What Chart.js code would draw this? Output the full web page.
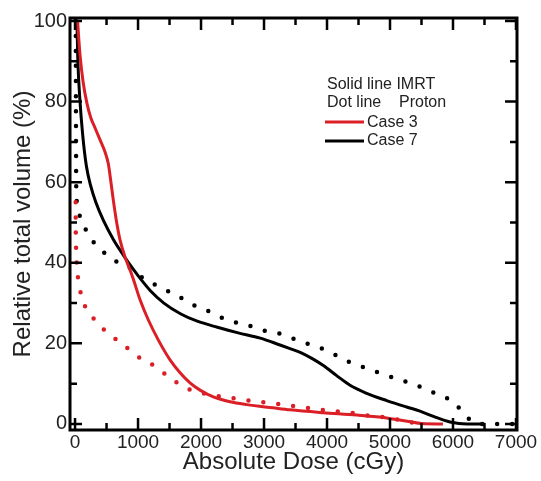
<!DOCTYPE html>
<html>
<head>
<meta charset="utf-8">
<script src="https://cdn.jsdelivr.net/npm/chart.js@4"></script>
<style>
  html, body { margin: 0; padding: 0; background: #fff; }
  #wrap { width: 541px; height: 481px; position: relative; }
</style>
</head>
<body>
<div id="wrap"><canvas id="dvhChart"></canvas></div>
<script>
// tick labels
const xTicks = [0, 1000, 2000, 3000, 4000, 5000, 6000, 7000]
const yTicks = [0, 20, 40, 60, 80, 100]

// Case 3 - IMRT (solid red)
const case3ImrtDose = [40, 79, 127, 190, 250, 317, 397, 476, 529, 570, 608, 661, 714, 794, 873, 926, 1032, 1164, 1323, 1508, 1667, 1825, 1984, 2196, 2460, 2725, 3143, 3413, 3937, 4471, 4947, 5300, 5500, 5840]
const case3ImrtVol = [100, 91.6, 85, 79.5, 76, 73.5, 70.5, 67.5, 64.5, 60, 55.5, 50, 45.7, 41.4, 38.2, 35.9, 30.8, 25.8, 20.8, 15.9, 12.7, 10.2, 8.4, 6.7, 5.5, 4.8, 4, 3.5, 2.8, 2.2, 1.5, 0.6, 0.1, 0]

// Case 3 - Proton (dotted red)
const case3ProtonDose = [10, 11, 15, 25, 45, 79, 127, 238, 349, 508, 667, 825, 979, 1190, 1376, 1535, 1720, 1958, 2270, 2540, 2825, 3095, 3333, 3598, 3915, 4180, 4418, 4656, 4947, 5212, 5450]
const case3ProtonVol = [55, 50, 45, 40.2, 36.5, 33.3, 30.3, 27.5, 25, 22.8, 20.8, 18.9, 16.9, 15.1, 13, 11.2, 9.2, 7.9, 6.9, 6.3, 5.7, 5.2, 4.7, 4.2, 3.5, 3.1, 2.7, 2.1, 1.6, 0.8, 0]

// Case 7 - IMRT (solid black)
const case7ImrtDose = [30, 45, 75, 120, 180, 250, 330, 450, 608, 767, 840, 1000, 1200, 1410, 1680, 1940, 2260, 2590, 2940, 3254, 3413, 3600, 3780, 3942, 4153, 4365, 4630, 4947, 5265, 5476, 5700, 5952, 6222, 6500]
const case7ImrtVol = [100, 90, 81, 72, 64, 59, 55, 50.5, 45.8, 41.9, 40.2, 36.8, 33, 30, 27.3, 25.5, 24, 22.6, 21.3, 19.6, 18.7, 17.6, 16.1, 14.5, 12, 9.6, 7.6, 5.8, 4.2, 3.2, 1.8, 0.5, 0, 0]

// Case 7 - Proton (dotted black)
const case7ProtonDose = [12, 13, 14, 16, 18, 30, 79, 159, 265, 450, 608, 846, 1005, 1217, 1429, 1614, 1799, 1984, 2196, 2407, 2725, 2968, 3206, 3439, 3651, 3889, 4100, 4339, 4524, 4735, 4974, 5212, 5450, 5667, 5873, 6063, 6222, 6381, 7000]
const case7ProtonVol = [100, 90, 80, 70, 60, 55, 51.4, 48.6, 45.7, 42.7, 40.7, 39, 37, 35, 33.3, 32, 30.1, 28.8, 27.5, 25.8, 24.6, 23.3, 22.6, 21.3, 20.1, 18.9, 17.4, 15.5, 14.4, 13.2, 11.9, 10.7, 9.4, 7.9, 6.7, 4.5, 1.7, 0, 0]

const RED = '#db1f26'
const BLACK = '#000000'
const FONT = "'Liberation Sans', Arial, sans-serif"

function toPoints(xs, ys) {
  return xs.map((x, i) => ({ x: x, y: ys[i] }))
}

function solid(label, color, xs, ys) {
  return {
    label: label,
    data: toPoints(xs, ys),
    borderColor: color,
    borderWidth: 3,
    pointRadius: 0,
    cubicInterpolationMode: 'monotone',
    fill: false
  }
}

function dotted(label, color, xs, ys) {
  return {
    label: label,
    data: toPoints(xs, ys),
    borderColor: color,
    borderWidth: 4.5,
    borderDash: [0, 15],
    borderCapStyle: 'round',
    pointRadius: 0,
    cubicInterpolationMode: 'monotone',
    fill: false
  }
}

// frame, inward ticks and the text legend
const framePlugin = {
  id: 'frame',
  afterDraw(chart) {
    const { ctx, chartArea: a, scales } = chart
    const xs = scales.x
    const ys = scales.y
    ctx.save()
    ctx.strokeStyle = '#000'
    ctx.lineWidth = 3
    ctx.strokeRect(a.left, a.top, a.right - a.left, a.bottom - a.top)

    ctx.lineWidth = 2.5
    ctx.beginPath()
    for (let v = 0; v <= 7000; v += 500) {
      const px = xs.getPixelForValue(v)
      const len = v % 1000 === 0 ? 12 : 7
      ctx.moveTo(px, a.bottom)
      ctx.lineTo(px, a.bottom - len)
      ctx.moveTo(px, a.top)
      ctx.lineTo(px, a.top + len)
    }
    for (let v = 0; v <= 100; v += 10) {
      const py = ys.getPixelForValue(v)
      const len = v % 20 === 0 ? 12 : 7
      ctx.moveTo(a.left, py)
      ctx.lineTo(a.left + len, py)
      ctx.moveTo(a.right, py)
      ctx.lineTo(a.right - len, py)
    }
    ctx.stroke()

    // legend
    ctx.font = '16px ' + FONT
    ctx.fillStyle = '#222'
    ctx.textBaseline = 'alphabetic'
    ctx.textAlign = 'left'
    ctx.fillText('Solid line IMRT', 327, 89)
    ctx.fillText('Dot line', 327, 107)
    ctx.fillText('Proton', 399, 107)
    ctx.fillText('Case 3', 367, 127)
    ctx.fillText('Case 7', 367, 145)

    ctx.lineWidth = 3
    ctx.strokeStyle = RED
    ctx.beginPath()
    ctx.moveTo(325, 122)
    ctx.lineTo(364, 122)
    ctx.stroke()
    ctx.strokeStyle = BLACK
    ctx.beginPath()
    ctx.moveTo(325, 141)
    ctx.lineTo(364, 141)
    ctx.stroke()
    ctx.restore()
  }
}

new Chart(document.getElementById('dvhChart'), {
  type: 'line',
  data: {
    datasets: [
      solid('Case 3 IMRT', RED, case3ImrtDose, case3ImrtVol),
      dotted('Case 3 Proton', RED, case3ProtonDose, case3ProtonVol),
      solid('Case 7 IMRT', BLACK, case7ImrtDose, case7ImrtVol),
      dotted('Case 7 Proton', BLACK, case7ProtonDose, case7ProtonVol)
    ]
  },
  options: {
    responsive: true,
    maintainAspectRatio: false,
    animation: false,
    layout: { padding: { top: 18, right: 24, left: 0, bottom: 0 } },
    plugins: {
      legend: { display: false },
      tooltip: { enabled: false }
    },
    scales: {
      x: {
        type: 'linear',
        min: -80,
        max: 7016,
        grid: { display: false, drawTicks: false },
        border: { display: false },
        afterBuildTicks: scale => { scale.ticks = xTicks.map(v => ({ value: v })) },
        afterFit: scale => { scale.height = 51 },
        ticks: {
          padding: 1,
          color: '#222',
          font: { family: FONT, size: 19 },
          maxRotation: 0,
          callback: v => String(v)
        },
        title: {
          display: true,
          text: 'Absolute Dose (cGy)',
          color: '#222',
          font: { family: FONT, size: 24 },
          padding: { top: 0, bottom: 4 }
        }
      },
      y: {
        type: 'linear',
        min: -1.5,
        max: 100.75,
        grid: { display: false, drawTicks: false },
        border: { display: false },
        afterBuildTicks: scale => { scale.ticks = yTicks.map(v => ({ value: v })) },
        afterFit: scale => { scale.width = 70 },
        ticks: {
          padding: 3,
          color: '#222',
          font: { family: FONT, size: 20 },
          callback: v => String(v)
        },
        title: {
          display: true,
          text: 'Relative total volume (%)',
          color: '#222',
          font: { family: FONT, size: 24 },
          padding: { top: 9, bottom: 0 }
        }
      }
    }
  },
  plugins: [framePlugin]
})
</script>
</body>
</html>
